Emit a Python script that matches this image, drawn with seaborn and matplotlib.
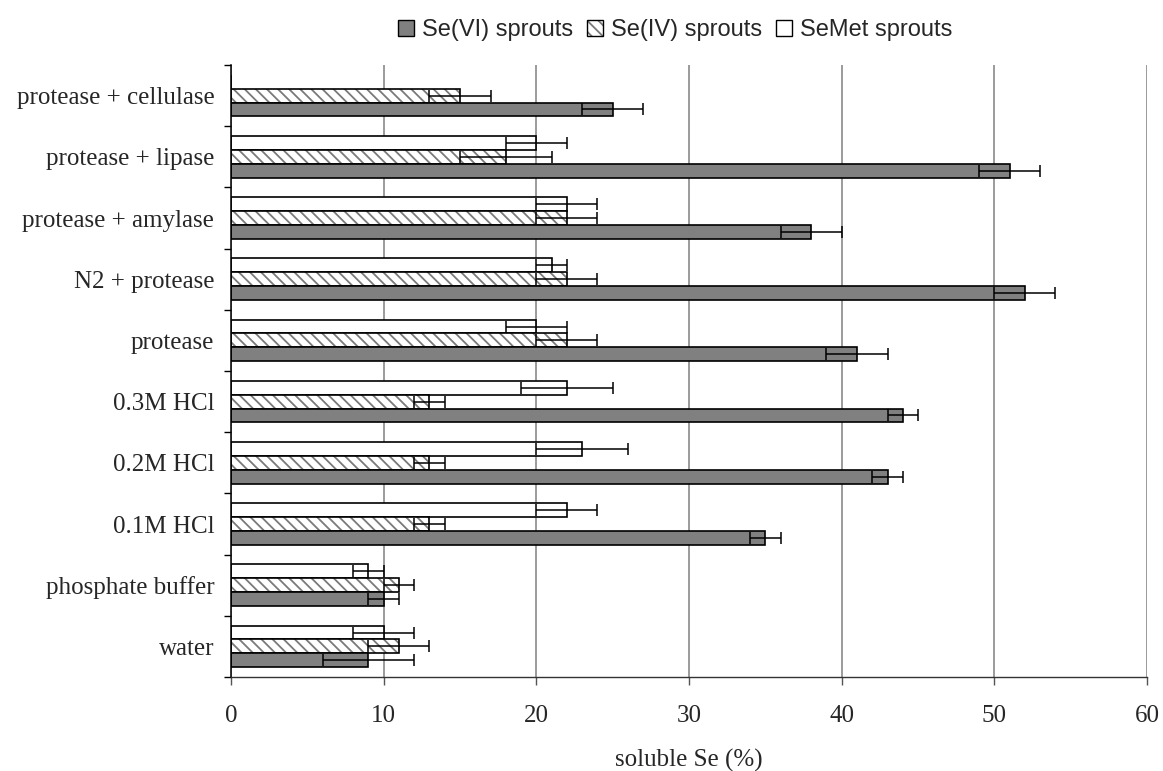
import matplotlib
matplotlib.use('Agg')
import matplotlib.pyplot as plt
import matplotlib.colors as mcolors
import seaborn as sns
import pandas as pd
import numpy as np
from matplotlib.patches import Patch
from matplotlib.ticker import FixedLocator

categories = ['protease + cellulase', 'protease + lipase', 'protease + amylase',
              'N2 + protease', 'protease', '0.3M HCl', '0.2M HCl', '0.1M HCl',
              'phosphate buffer', 'water']
series = ['Se(VI) sprouts', 'Se(IV) sprouts', 'SeMet sprouts']
se6 = [25, 51, 38, 52, 41, 44, 43, 35, 10, 9]
se6_err = [2, 2, 2, 2, 2, 1, 1, 1, 1, 3]
se4 = [15, 18, 22, 22, 22, 13, 13, 13, 11, 11]
se4_err = [2, 3, 2, 2, 2, 1, 1, 1, 1, 2]
semet = [0, 20, 22, 21, 20, 22, 23, 22, 9, 10]
semet_err = [np.nan, 2, 2, 1, 2, 3, 3, 2, 1, 2]
x_ticks = [0, 10, 20, 30, 40, 50, 60]

values = {series[0]: se6, series[1]: se4, series[2]: semet}
errors = {series[0]: se6_err, series[1]: se4_err, series[2]: semet_err}

rows = []
for s in series:
    for c, v, e in zip(categories, values[s], errors[s]):
        rows.append({'treatment': c, 'series': s, 'value': v, 'err': e})
df = pd.DataFrame(rows)

HATCH_GREY = '#7a7a7a'

sns.set_theme(style='white')
plt.rcParams['font.family'] = ['Liberation Serif', 'DejaVu Serif']
plt.rcParams['hatch.color'] = HATCH_GREY
plt.rcParams['hatch.linewidth'] = 1.3


def grey_hatch(patch):
    patch.set_hatch('\\\\\\')
    if hasattr(patch, 'set_hatchcolor'):
        patch.set_hatchcolor(HATCH_GREY)
    else:
        patch._hatch_color = mcolors.to_rgba(HATCH_GREY)


fig = plt.figure(figsize=(11.63, 7.71), dpi=100)
ax = fig.add_axes([0.1986, 0.1219, 0.7877, 0.7938])

hue_order = [series[2], series[1], series[0]]
palette = {series[0]: '#808080', series[1]: 'white', series[2]: 'white'}
sns.barplot(data=df, y='treatment', x='value', hue='series', hue_order=hue_order,
            order=categories, palette=palette, orient='h', width=0.68,
            edgecolor='black', linewidth=1.2, errorbar=None, legend=False,
            saturation=1, ax=ax)

for cont, s in zip(ax.containers, hue_order):
    errs = df[df['series'] == s].set_index('treatment').loc[categories, 'err'].values
    xs, ys, es = [], [], []
    for bar, e in zip(cont, errs):
        if s == series[1]:
            grey_hatch(bar)
        if np.isnan(e):
            continue
        xs.append(bar.get_width())
        ys.append(bar.get_y() + bar.get_height() / 2)
        es.append(e)
    ax.errorbar(xs, ys, xerr=es, fmt='none', ecolor='black', elinewidth=1.1,
                capsize=4.5, capthick=1.1, zorder=5)

ax.set_xlim(0, 60)
ax.set_ylim(len(categories) - 0.5, -0.5)
ax.set_xticks(x_ticks)
ax.set_xticklabels([str(t) for t in x_ticks], fontsize=18)
ax.tick_params(axis='x', length=6, width=1, color='#555555', pad=14, direction='out', bottom=True)
ax.tick_params(axis='y', which='major', length=0, pad=12, labelsize=18)
ax.yaxis.set_minor_locator(FixedLocator(np.arange(-0.5, len(categories), 1.0)))
ax.tick_params(axis='y', which='minor', length=5, width=1, color='black', direction='out', left=True)
ax.set_axisbelow(True)
ax.xaxis.grid(True, color='#808080', linewidth=1.1)
ax.yaxis.grid(False)
for sp in ['top', 'right']:
    ax.spines[sp].set_visible(False)
ax.spines['left'].set_color('black')
ax.spines['left'].set_linewidth(1.1)
ax.spines['bottom'].set_color('#333333')
ax.spines['bottom'].set_linewidth(1.0)
ax.set_ylabel('')
ax.set_xlabel('soluble Se (%)', fontsize=18, labelpad=16)

h_sev = Patch(facecolor='#808080', edgecolor='black', linewidth=1.0)
h_seiv = Patch(facecolor='white', edgecolor='black', linewidth=1.0)
grey_hatch(h_seiv)
h_semet = Patch(facecolor='white', edgecolor='black', linewidth=1.0)
leg = ax.legend([h_sev, h_seiv, h_semet], series, ncol=3, loc='center',
                bbox_to_anchor=(0.485, 1.057),
                frameon=False, handlelength=0.65, handleheight=0.65, handletextpad=0.35,
                columnspacing=0.6, prop={'family': 'Liberation Sans', 'size': 17})

fig.savefig('out.png', dpi=100)
